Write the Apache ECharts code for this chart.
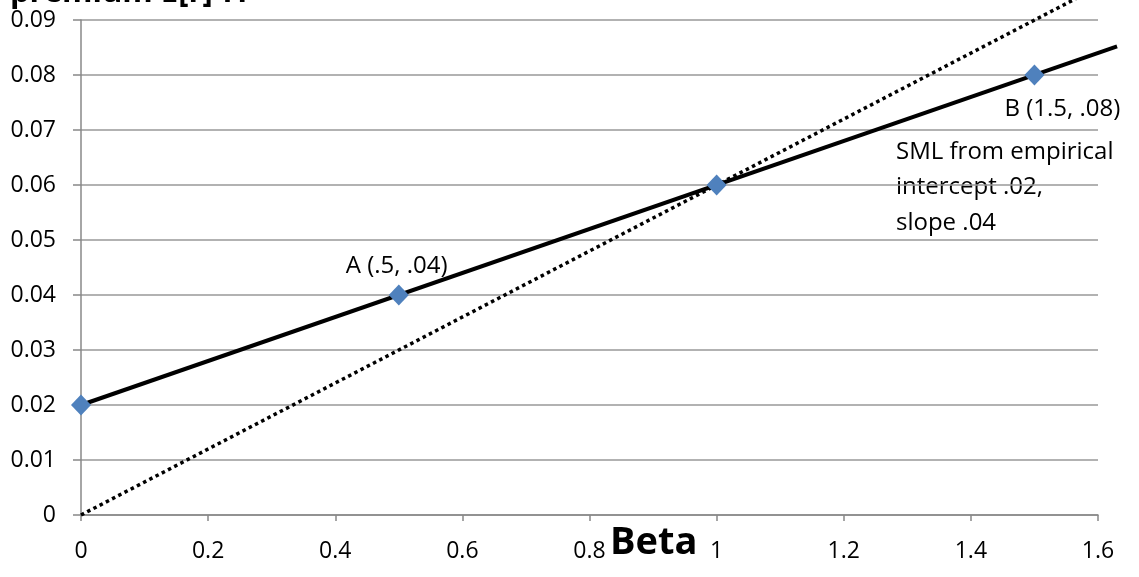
<!DOCTYPE html>
<html>
<head>
<meta charset="utf-8">
<script src="https://cdn.jsdelivr.net/npm/echarts@6/dist/echarts.min.js"></script>
<style>
  html, body { margin: 0; padding: 0; background: #fff; }
  #main { width: 1139px; height: 577px; }
</style>
</head>
<body>
<div id="main"></div>
<script>
// points on the plot
var betas = [0, 0.5, 1, 1.5];
var returns = [0.02, 0.04, 0.06, 0.08];
var pointLabels = ['', 'A (.5, .04)', '', 'B (1.5, .08)'];

// line end points (lines run a bit past the axis)
var smlEmpirical = [[0, 0.02], [1.63, 0.0852]];
var smlTheory = [[0, 0], [1.627, 0.0976]];

var xTicks = [0, 0.2, 0.4, 0.6, 0.8, 1, 1.2, 1.4, 1.6];
var yTicks = [0, 0.01, 0.02, 0.03, 0.04, 0.05, 0.06, 0.07, 0.08, 0.09];

var fontName = 'Open Sans';

function run() {
    var myChart = echarts.init(document.getElementById('main'));

    var xMax = xTicks[xTicks.length - 1];
    var plotW = 1139 - 81 - 41;
    // the lines sit on a twin grid that reaches 20px further right,
    // scaled so 1 beta is the same width as on the visible axis
    var xMaxWide = xMax * (plotW + 20) / plotW;

    var pts = betas.map(function (b, i) {
        return {
            value: [b, returns[i]],
            label: {
                show: pointLabels[i] !== '',
                formatter: pointLabels[i],
                position: i == 3 ? [-20, 33] : [-43, -30],
                align: 'left',
                color: '#000',
                fontFamily: fontName,
                fontSize: 24
            }
        };
    });

    var axisGray = { color: '#888', width: 1.5 };

    var option = {
        animation: false,
        grid: [
            { left: 81, right: 41, top: 20, bottom: 62 },
            { left: 81, right: 21, top: 20, bottom: 62 }
        ],
        xAxis: [
            {
                type: 'value',
                gridIndex: 0,
                min: xTicks[0],
                max: xMax,
                interval: 0.2,
                axisLine: { show: true, lineStyle: axisGray },
                axisTick: { show: true, length: 6, lineStyle: axisGray },
                splitLine: { show: false },
                axisLabel: {
                    color: '#000', fontFamily: fontName, fontSize: 23, margin: 25,
                    formatter: function (v) { return String(Math.round(v * 10) / 10); }
                }
            },
            { type: 'value', gridIndex: 1, min: 0, max: xMaxWide, show: false }
        ],
        yAxis: [
            {
                type: 'value',
                gridIndex: 0,
                min: yTicks[0],
                max: yTicks[yTicks.length - 1],
                interval: 0.01,
                axisLine: { show: true, lineStyle: axisGray },
                axisTick: { show: true, length: 8, lineStyle: axisGray },
                splitLine: { show: true, lineStyle: { color: '#999', width: 1.5 } },
                axisLabel: {
                    color: '#000', fontFamily: fontName, fontSize: 23, margin: 25,
                    formatter: function (v) { return String(Math.round(v * 100) / 100); }
                }
            },
            { type: 'value', gridIndex: 1, min: 0, max: yTicks[yTicks.length - 1], show: false }
        ],
        graphic: [
            {
                type: 'text', left: 10, top: -22,
                style: { text: 'premium E[r]-rf', fontFamily: fontName, fontSize: 31, fontWeight: 'bold', fill: '#000' }
            },
            {
                type: 'text', left: 610, top: 524,
                style: { text: 'Beta', fontFamily: fontName, fontSize: 38, fontWeight: 'bold', fill: '#000' }
            },
            {
                type: 'text', left: 896, top: 134,
                style: {
                    text: 'SML from empirical\nintercept .02,\nslope .04',
                    fontFamily: fontName, fontSize: 24, lineHeight: 35.5, fill: '#000'
                }
            }
        ],
        series: [
            {
                name: 'theory',
                type: 'line',
                xAxisIndex: 1, yAxisIndex: 1,
                data: smlTheory,
                clip: false,
                symbol: 'none',
                lineStyle: { color: '#000', width: 3.5, type: [3.5, 3.5], cap: 'butt' },
                z: 2
            },
            {
                name: 'empirical',
                type: 'line',
                xAxisIndex: 1, yAxisIndex: 1,
                data: smlEmpirical,
                clip: false,
                symbol: 'none',
                lineStyle: { color: '#000', width: 4 },
                z: 3
            },
            {
                name: 'points',
                type: 'scatter',
                data: pts,
                symbol: 'diamond',
                symbolSize: [20, 21],
                itemStyle: { color: '#4F81BD', opacity: 1 },
                clip: false,
                z: 4
            }
        ]
    };

    myChart.setOption(option);
}

run();
</script>
</body>
</html>
